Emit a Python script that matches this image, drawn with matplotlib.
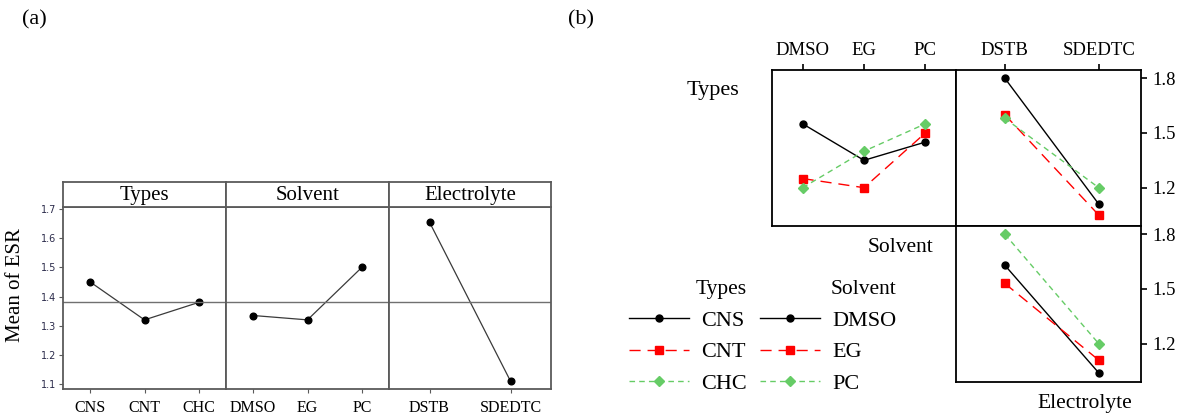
import matplotlib
matplotlib.use('Agg')
import matplotlib.pyplot as plt
from matplotlib.lines import Line2D

plt.rcParams['font.family'] = ['Liberation Serif', 'DejaVu Serif']

W, H = 1183, 419

# main effects (panel a)
types = ['CNS', 'CNT', 'CHC']
types_mean = [1.45, 1.32, 1.38]
solvents = ['DMSO', 'EG', 'PC']
solvent_mean = [1.335, 1.32, 1.50]
electrolytes = ['DSTB', 'SDEDTC']
electrolyte_mean = [1.655, 1.11]
grand_mean = 1.381
a_yticks = [1.1, 1.2, 1.3, 1.4, 1.5, 1.6, 1.7]

# interactions (panel b)
cns_by_solvent = [1.55, 1.35, 1.45]
cnt_by_solvent = [1.25, 1.20, 1.50]
chc_by_solvent = [1.20, 1.40, 1.55]
cns_by_electrolyte = [1.80, 1.11]
cnt_by_electrolyte = [1.60, 1.05]
chc_by_electrolyte = [1.58, 1.20]
dmso_by_electrolyte = [1.63, 1.04]
eg_by_electrolyte = [1.53, 1.11]
pc_by_electrolyte = [1.80, 1.20]
b_yticks = [1.2, 1.5, 1.8]


def box(x0, y0, x1, y1):
    # pixel box -> figure fraction
    return [x0 / W, 1 - y1 / H, (x1 - x0) / W, (y1 - y0) / H]


def fxy(x, y):
    return x / W, 1 - y / H


fig = plt.figure(figsize=(W / 100, H / 100), dpi=100)

# ---------- panel (a) ----------
frame_c = '#5a5a5a'
a_groups = [('Types', types, types_mean, 63, 226),
            ('Solvent', solvents, solvent_mean, 226, 389),
            ('Electrolyte', electrolytes, electrolyte_mean, 389, 551)]
for i, (title, cats, vals, x0, x1) in enumerate(a_groups):
    ax = fig.add_axes(box(x0, 207, x1, 389))
    ax.plot(range(len(cats)), vals, '-', color='#3a3a3a', lw=0.9,
            marker='o', ms=4.8, mfc='black', mec='black')
    ax.axhline(grand_mean, color='#707070', lw=1)
    ax.set_xlim(-0.5, len(cats) - 0.5)
    ax.set_ylim(1.083, 1.707)
    ax.set_xticks(range(len(cats)))
    ax.set_xticklabels(cats, fontsize=11.5)
    ax.tick_params(axis='x', length=3, pad=5, color=frame_c)
    if i == 0:
        ax.set_yticks(a_yticks)
        ax.set_yticklabels(['%.1f' % v for v in a_yticks], fontsize=7,
                           family='DejaVu Sans', color='#2b2b4b')
        ax.tick_params(axis='y', length=3, pad=2, color=frame_c)
    else:
        ax.set_yticks([])
    for s in ax.spines.values():
        s.set_color(frame_c)
        s.set_linewidth(1.3)
    hx = fig.add_axes(box(x0, 182, x1, 207))
    hx.set_xticks([])
    hx.set_yticks([])
    for s in hx.spines.values():
        s.set_color(frame_c)
        s.set_linewidth(1.3)
    hx.text(0.5, 0.45, title, ha='center', va='center', fontsize=15,
            transform=hx.transAxes)

fig.text(*fxy(16, 285), 'Mean of ESR', rotation=90, ha='center',
         va='center', fontsize=15)
fig.text(*fxy(22, 20), '(a)', ha='left', va='center', fontsize=16)

# ---------- panel (b) ----------
c_black = 'black'
c_red = '#ff0000'
c_green = '#66cc66'
styles = [dict(color=c_black, ls='-', marker='o', ms=5),
          dict(color=c_red, ls=(0, (8, 5)), marker='s', ms=5.5),
          dict(color=c_green, ls=(0, (4, 3)), marker='D', ms=5)]
ylim_b = (0.99, 1.845)

ax_ts = fig.add_axes(box(772, 70, 956, 226))
for vals, st in zip([cns_by_solvent, cnt_by_solvent, chc_by_solvent], styles):
    ax_ts.plot(range(3), vals, lw=1, mec=st['color'], mfc=st['color'], **st)
ax_ts.set_xlim(-0.5, 2.5)
ax_ts.set_ylim(*ylim_b)
ax_ts.xaxis.tick_top()
ax_ts.set_xticks(range(3))
ax_ts.set_xticklabels(solvents, fontsize=13.5)
ax_ts.set_yticks([])

ax_te = fig.add_axes(box(956, 70, 1141, 226))
for vals, st in zip([cns_by_electrolyte, cnt_by_electrolyte, chc_by_electrolyte], styles):
    ax_te.plot(range(2), vals, lw=1, mec=st['color'], mfc=st['color'], **st)
ax_te.set_xlim(-0.52, 1.45)
ax_te.set_ylim(*ylim_b)
ax_te.xaxis.tick_top()
ax_te.set_xticks(range(2))
ax_te.set_xticklabels(electrolytes, fontsize=13.5)
ax_te.yaxis.tick_right()
ax_te.set_yticks(b_yticks)
ax_te.set_yticklabels(['%.1f' % v for v in b_yticks], fontsize=13.5)

ax_se = fig.add_axes(box(956, 226, 1141, 382))
for vals, st in zip([dmso_by_electrolyte, eg_by_electrolyte, pc_by_electrolyte], styles):
    ax_se.plot(range(2), vals, lw=1, mec=st['color'], mfc=st['color'], **st)
ax_se.set_xlim(-0.52, 1.45)
ax_se.set_ylim(*ylim_b)
ax_se.set_xticks([])
ax_se.yaxis.tick_right()
ax_se.set_yticks(b_yticks)
ax_se.set_yticklabels(['%.1f' % v for v in b_yticks], fontsize=13.5)

for ax in (ax_ts, ax_te, ax_se):
    ax.tick_params(length=4, width=1.2, pad=4)
    for s in ax.spines.values():
        s.set_linewidth(1.3)

fig.text(*fxy(687, 91), 'Types', ha='left', va='center', fontsize=16)
fig.text(*fxy(868, 247), 'Solvent', ha='left', va='center', fontsize=15.5)
fig.text(*fxy(1037, 403), 'Electrolyte', ha='left', va='center', fontsize=15.5)
fig.text(*fxy(568, 20), '(b)', ha='left', va='center', fontsize=16)

# legends
def handles():
    return [Line2D([], [], lw=1, mec=st['color'], mfc=st['color'], **st)
            for st in styles]

leg_kw = dict(loc='upper left', frameon=False, fontsize=16,
              title_fontsize=15.5, handlelength=2.7, handletextpad=0.55,
              labelspacing=0.5, borderpad=0, borderaxespad=0,
              alignment='right')
fig.legend(handles(), types, title='Types', bbox_to_anchor=fxy(629, 280),
           **leg_kw)
fig.legend(handles(), solvents, title='Solvent', bbox_to_anchor=fxy(760, 280),
           **leg_kw)

fig.savefig('out.png', dpi=100)
